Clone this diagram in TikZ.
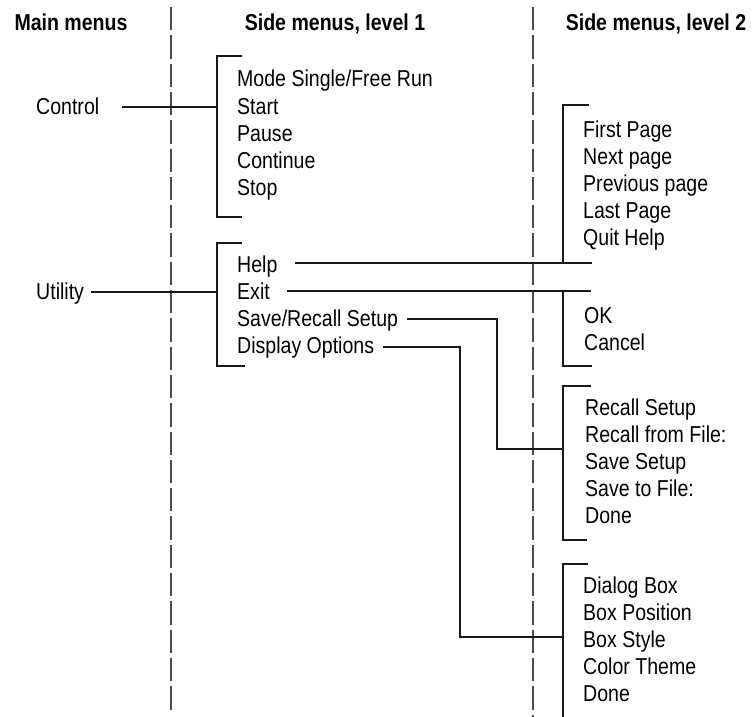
\documentclass[tikz,border=0pt]{standalone}
\usepackage{fontspec}
\setmainfont[FakeStretch=0.85]{Liberation Sans}
\begin{document}
\begin{tikzpicture}[x=1pt,y=-1pt,
  lbl/.style={anchor=base west, inner sep=0pt, font=\fontsize{23}{27}\selectfont},
  hdr/.style={anchor=base, inner sep=0pt, font=\bfseries\fontsize{23}{27}\selectfont},
  sepline/.style={draw=black!70, line width=1.1pt, dash pattern=on 23.3pt off 5pt},
  conn/.style={draw=black!90, line width=1.1pt}]
\useasboundingbox (0,0) rectangle (753,717);
% headers
\node[hdr] (h0) at (71,31) {Main menus};
\node[hdr] (h1) at (335,31) {Side menus, level 1};
\node[hdr] (h2) at (656,31) {Side menus, level 2};
% separators
\coordinate (s1t) at (171,7); \coordinate (s1b) at (171,712);
\coordinate (s2t) at (533,7); \coordinate (s2b) at (533,717);
\draw[sepline] (s1t) -- (s1b);
\draw[sepline] (s2t) -- (s2b);
% main menus
\node[lbl] (control) at (36,114) {Control};
\node[lbl] (utility) at (36,299) {Utility};
% level 1: control
\node[lbl] (mode) at (237,87) {Mode Single/Free Run};
\node[lbl] (start) at (237,114) {Start};
\node[lbl] (pause) at (237,141) {Pause};
\node[lbl] (cont) at (237,168) {Continue};
\node[lbl] (stop) at (237,195) {Stop};
\coordinate (c0) at (122,107);
\coordinate (b1m) at (217,107);
\coordinate (b1t) at (242,56); \coordinate (b1tl) at (217,56);
\coordinate (b1bl) at (217,217); \coordinate (b1b) at (242,217);
\draw[conn] (b1t) -- (b1tl) -- (b1bl) -- (b1b);
\draw[conn] (c0) -- (b1m);
% level 1: utility
\node[lbl] (help) at (237,272) {Help};
\node[lbl] (exit) at (237,299) {Exit};
\node[lbl] (saverecall) at (237,326) {Save/Recall Setup};
\node[lbl] (display) at (237,353) {Display Options};
\coordinate (u0) at (91,292);
\coordinate (b2m) at (217,292);
\coordinate (b2t) at (242,243); \coordinate (b2tl) at (217,243);
\coordinate (b2bl) at (217,366); \coordinate (b2b) at (245,366);
\draw[conn] (b2t) -- (b2tl) -- (b2bl) -- (b2b);
\draw[conn] (u0) -- (b2m);
% level 2: help menu
\node[lbl] (fp) at (583,137) {First Page};
\node[lbl] (np) at (583,164) {Next page};
\node[lbl] (pp) at (583,191) {Previous page};
\node[lbl] (lp) at (583,218) {Last Page};
\node[lbl] (qh) at (583,245) {Quit Help};
\coordinate (hl0) at (295,263); \coordinate (hl1) at (592,263);
\coordinate (bAc) at (563,263);
\coordinate (bAt) at (589,105); \coordinate (bAtl) at (563,105);
\draw[conn] (hl0) -- (hl1);
\draw[conn] (bAt) -- (bAtl) -- (bAc);
% level 2: exit menu
\node[lbl] (ok) at (584,323) {OK};
\node[lbl] (cancel) at (584,350) {Cancel};
\coordinate (el0) at (287,291); \coordinate (el1) at (591,291);
\coordinate (bBc) at (563,291);
\coordinate (bBbl) at (563,366); \coordinate (bBb) at (592,366);
\draw[conn] (el0) -- (el1);
\draw[conn] (bBc) -- (bBbl) -- (bBb);
% level 2: save/recall menu
\node[lbl] (rs) at (585,415) {Recall Setup};
\node[lbl] (rf) at (585,442) {Recall from File:};
\node[lbl] (ss) at (585,469) {Save Setup};
\node[lbl] (sf) at (585,496) {Save to File:};
\node[lbl] (done1) at (585,523) {Done};
\coordinate (bCt) at (591,386); \coordinate (bCtl) at (563,386);
\coordinate (bCbl) at (563,540); \coordinate (bCb) at (587,540);
\coordinate (bCm) at (563,449);
\draw[conn] (bCt) -- (bCtl) -- (bCbl) -- (bCb);
\coordinate (sr0) at (407,319); \coordinate (sr1) at (497,319); \coordinate (sr2) at (497,449);
\draw[conn] (sr0) -- (sr1) -- (sr2) -- (bCm);
% level 2: display options menu
\node[lbl] (db) at (583,593) {Dialog Box};
\node[lbl] (bp) at (583,620) {Box Position};
\node[lbl] (bs) at (583,647) {Box Style};
\node[lbl] (ct) at (583,674) {Color Theme};
\node[lbl] (done2) at (583,701) {Done};
\coordinate (bDt) at (588,564); \coordinate (bDtl) at (563,564);
\coordinate (bDbl) at (563,717);
\coordinate (bDm) at (563,637);
\draw[conn] (bDt) -- (bDtl) -- (bDbl);
\coordinate (do0) at (383,347); \coordinate (do1) at (460,347); \coordinate (do2) at (460,637);
\draw[conn] (do0) -- (do1) -- (do2) -- (bDm);
\end{tikzpicture}
\end{document}
